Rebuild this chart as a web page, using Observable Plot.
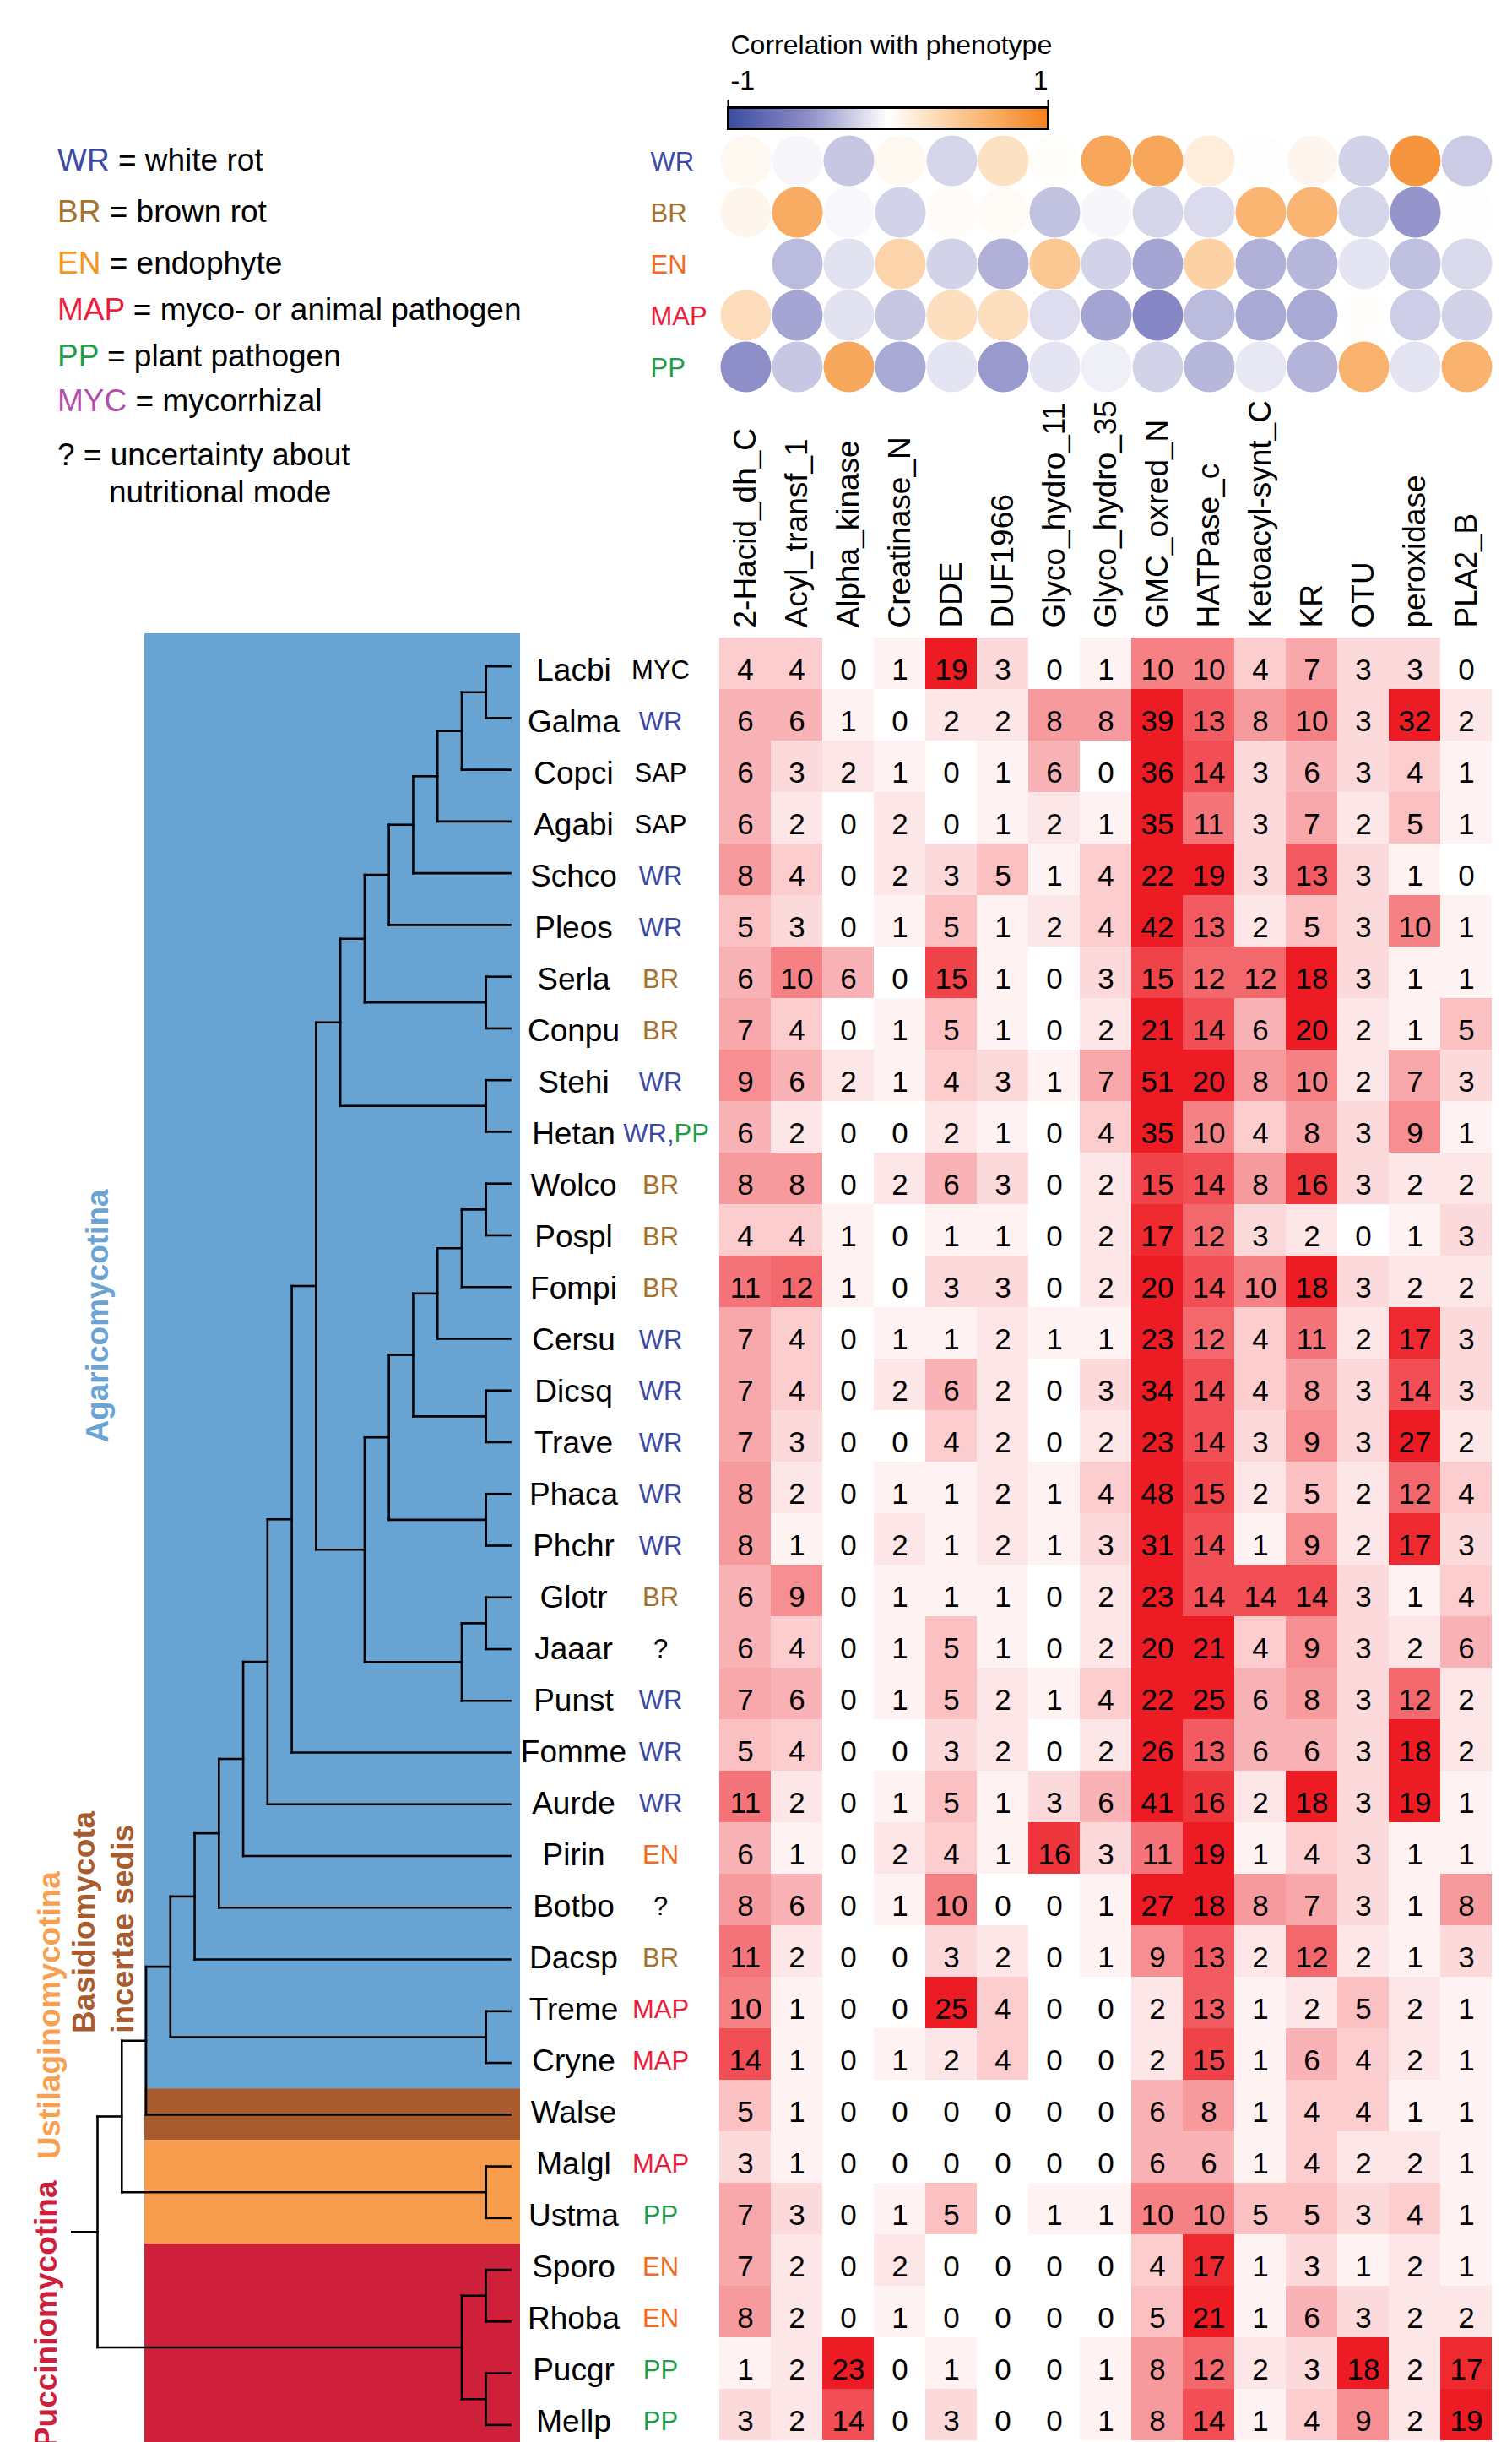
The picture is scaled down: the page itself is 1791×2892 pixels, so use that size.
<!DOCTYPE html>
<html><head><meta charset="utf-8">
<script src="https://cdn.jsdelivr.net/npm/d3@7"></script>
<script src="https://cdn.jsdelivr.net/npm/@observablehq/plot@0.6"></script>
<style>
html,body{margin:0;padding:0;overflow:hidden;background:#fff;}
#root{position:relative;width:1791px;height:2892px;overflow:hidden;background:#fff;font-family:"Liberation Sans",Arial,sans-serif;}
.leg{position:absolute;font-size:37px;line-height:42px;white-space:nowrap;color:#000;}
</style></head><body><div id="root"></div>
<script>
// ---------------- DATA ----------------
const domains = ["2-Hacid_dh_C","Acyl_transf_1","Alpha_kinase","Creatinase_N","DDE","DUF1966","Glyco_hydro_11","Glyco_hydro_35","GMC_oxred_N","HATPase_c","Ketoacyl-synt_C","KR","OTU","peroxidase","PLA2_B"];
const taxa = ["Lacbi","Galma","Copci","Agabi","Schco","Pleos","Serla","Conpu","Stehi","Hetan","Wolco","Pospl","Fompi","Cersu","Dicsq","Trave","Phaca","Phchr","Glotr","Jaaar","Punst","Fomme","Aurde","Pirin","Botbo","Dacsp","Treme","Cryne","Walse","Malgl","Ustma","Sporo","Rhoba","Pucgr","Mellp"];
const modes = ["MYC","WR","SAP","SAP","WR","WR","BR","BR","WR","WR,PP","BR","BR","BR","WR","WR","WR","WR","WR","BR","?","WR","WR","WR","EN","?","BR","MAP","MAP","","MAP","PP","EN","EN","PP","PP"];
const counts = [
 [4,4,0,1,19,3,0,1,10,10,4,7,3,3,0],
 [6,6,1,0,2,2,8,8,39,13,8,10,3,32,2],
 [6,3,2,1,0,1,6,0,36,14,3,6,3,4,1],
 [6,2,0,2,0,1,2,1,35,11,3,7,2,5,1],
 [8,4,0,2,3,5,1,4,22,19,3,13,3,1,0],
 [5,3,0,1,5,1,2,4,42,13,2,5,3,10,1],
 [6,10,6,0,15,1,0,3,15,12,12,18,3,1,1],
 [7,4,0,1,5,1,0,2,21,14,6,20,2,1,5],
 [9,6,2,1,4,3,1,7,51,20,8,10,2,7,3],
 [6,2,0,0,2,1,0,4,35,10,4,8,3,9,1],
 [8,8,0,2,6,3,0,2,15,14,8,16,3,2,2],
 [4,4,1,0,1,1,0,2,17,12,3,2,0,1,3],
 [11,12,1,0,3,3,0,2,20,14,10,18,3,2,2],
 [7,4,0,1,1,2,1,1,23,12,4,11,2,17,3],
 [7,4,0,2,6,2,0,3,34,14,4,8,3,14,3],
 [7,3,0,0,4,2,0,2,23,14,3,9,3,27,2],
 [8,2,0,1,1,2,1,4,48,15,2,5,2,12,4],
 [8,1,0,2,1,2,1,3,31,14,1,9,2,17,3],
 [6,9,0,1,1,1,0,2,23,14,14,14,3,1,4],
 [6,4,0,1,5,1,0,2,20,21,4,9,3,2,6],
 [7,6,0,1,5,2,1,4,22,25,6,8,3,12,2],
 [5,4,0,0,3,2,0,2,26,13,6,6,3,18,2],
 [11,2,0,1,5,1,3,6,41,16,2,18,3,19,1],
 [6,1,0,2,4,1,16,3,11,19,1,4,3,1,1],
 [8,6,0,1,10,0,0,1,27,18,8,7,3,1,8],
 [11,2,0,0,3,2,0,1,9,13,2,12,2,1,3],
 [10,1,0,0,25,4,0,0,2,13,1,2,5,2,1],
 [14,1,0,1,2,4,0,0,2,15,1,6,4,2,1],
 [5,1,0,0,0,0,0,0,6,8,1,4,4,1,1],
 [3,1,0,0,0,0,0,0,6,6,1,4,2,2,1],
 [7,3,0,1,5,0,1,1,10,10,5,5,3,4,1],
 [7,2,0,2,0,0,0,0,4,17,1,3,1,2,1],
 [8,2,0,1,0,0,0,0,5,21,1,6,3,2,2],
 [1,2,23,0,1,0,0,1,8,12,2,3,18,2,17],
 [3,2,14,0,3,0,0,1,8,14,1,4,9,2,19]
];
const phenotypes = ["WR","BR","EN","MAP","PP"];
const correlations = [
 [0.06,-0.04,-0.25,0.06,-0.18,0.25,0.02,0.72,0.72,0.15,-0.01,0.07,-0.2,0.85,-0.23],
 [0.08,0.68,-0.03,-0.2,0.03,0.04,-0.27,-0.04,-0.18,-0.16,0.6,0.6,-0.18,-0.47,-0.01],
 [null,-0.3,-0.13,0.35,-0.2,-0.35,0.45,-0.2,-0.4,0.38,-0.35,-0.32,-0.12,-0.28,-0.17],
 [0.28,-0.4,-0.13,-0.25,0.27,0.27,-0.15,-0.4,-0.55,-0.3,-0.38,-0.38,0.01,-0.22,-0.2],
 [-0.5,-0.25,0.7,-0.38,-0.12,-0.45,-0.12,-0.07,-0.2,-0.32,-0.1,-0.33,0.62,-0.12,0.62]
];
// species tree (topology, as nested pairs)
const cladeA = [[[[[[["Lacbi","Galma"],"Copci"],"Agabi"],"Schco"],"Pleos"],["Serla","Conpu"]],["Stehi","Hetan"]];
const cladeB = [[[[[["Wolco","Pospl"],"Fompi"],"Cersu"],["Dicsq","Trave"]],["Phaca","Phchr"]],[["Glotr","Jaaar"],"Punst"]];
const tree = [[[[[[[[[[cladeA,cladeB],"Fomme"],"Aurde"],"Pirin"],"Botbo"],"Dacsp"],["Treme","Cryne"]],"Walse"],["Malgl","Ustma"]],[["Sporo","Rhoba"],["Pucgr","Mellp"]]];
const clades = [
 {name:"Agaricomycotina", from:"Lacbi", to:"Cryne", color:"#67a3d3"},
 {name:"Basidiomycota incertae sedis", from:"Walse", to:"Walse", color:"#a85c2e"},
 {name:"Ustilaginomycotina", from:"Malgl", to:"Ustma", color:"#f79c4c"},
 {name:"Pucciniomycotina", from:"Sporo", to:"Mellp", color:"#ce1f3b"}
];
const modeColors = {WR:"#3b4aa5", BR:"#a5712c", EN:"#f26b21", MAP:"#ee1c3b", PP:"#1f9e4a", MYC:"#000", SAP:"#000", "?":"#000"};
const legendItems = [
 ["WR","#3b4aa5","white rot"],["BR","#a5712c","brown rot"],["EN","#f7941d","endophyte"],
 ["MAP","#ee1c3b","myco- or animal pathogen"],["PP","#1f9e4a","plant pathogen"],["MYC","#b050a8","mycorrhizal"]
];

// ---------------- LAYOUT ----------------
const root = document.getElementById("root");
const FONT = "'Liberation Sans', Arial, sans-serif";
function place(el, left, top) { el.style.position = "absolute"; el.style.left = left + "px"; el.style.top = top + "px"; root.appendChild(el); return el; }
const baseStyle = {fontFamily: FONT, background: "transparent", color: "#000"};

// text legend (top-left)
const legTops = [190, 251, 312, 367, 422, 475];
legendItems.forEach(([code, col, desc], i) => {
  const d = document.createElement("div"); d.className = "leg";
  d.innerHTML = `<span style="color:${col}">${code}</span> = ${desc}`;
  place(d, 68, legTops[i] - 21);
});
{ const d = document.createElement("div"); d.className = "leg"; d.textContent = "? = uncertainty about"; place(d, 68, 539 - 21);
  const e = document.createElement("div"); e.className = "leg"; e.textContent = "nutritional mode"; place(e, 129, 583 - 21); }

// correlation colour scale
const corrColor = {type: "linear", domain: [-1, -0.5, 0, 0.5, 1], range: ["#3a4c9f", "#8e8ec8", "#ffffff", "#fbc287", "#f4821f"]};

// colour bar
const ramp = d3.range(-1, 1, 0.02);
place(Plot.plot({
  width: 440, height: 170, marginLeft: 22, marginRight: 39, marginTop: 127, marginBottom: 18,
  style: baseStyle,
  x: {domain: [-1, 1], axis: null}, y: {domain: [0, 1], axis: null}, color: corrColor,
  marks: [
    Plot.rect(ramp, {x1: d => d, x2: d => Math.min(1, d + 0.03), y1: 0, y2: 1, fill: d => d + 0.01}),
    Plot.frame({stroke: "black", strokeWidth: 3}),
    Plot.ruleX([-1, 1], {y1: 1, y2: 1.36, stroke: "black", strokeWidth: 2}),
    Plot.text(["Correlation with phenotype"], {x: -1, y: 3.96, dx: 3, textAnchor: "start", fontSize: 32, fill: "black"}),
    Plot.text(["-1"], {x: -1, y: 2.28, dx: 3, textAnchor: "start", fontSize: 32, fill: "black"}),
    Plot.text(["1"], {x: 1, y: 2.28, textAnchor: "end", fontSize: 32, fill: "black"})
  ]
}), 840, 0);

// correlation dots
const corrCells = [];
phenotypes.forEach((p, i) => domains.forEach((dname, j) => { if (correlations[i][j] != null) corrCells.push({phen: p, domain: dname, r: correlations[i][j]}); }));
place(Plot.plot({
  width: 1191, height: 320, marginLeft: 251, marginRight: 23, marginTop: 9.5, marginBottom: 5.5,
  style: baseStyle,
  x: {type: "point", domain: domains, axis: null, padding: 0.5},
  y: {type: "point", domain: phenotypes, axis: null, padding: 0.5},
  color: corrColor,
  marks: [
    Plot.dot(corrCells, {x: "domain", y: "phen", r: 30, fill: "r"}),
    ...phenotypes.map(p => Plot.text([p], {y: () => p, frameAnchor: "left", dx: -81, dy: 2, textAnchor: "start", fontSize: 31, fill: modeColors[p]}))
  ]
}), 600, 150);

// heatmap with labels
const cells = [];
taxa.forEach((t, i) => domains.forEach((dname, j) => cells.push({taxon: t, domain: dname, n: counts[i][j]})));
const tagRows = taxa.map((t, i) => ({taxon: t, mode: modes[i]}));
const singleTags = tagRows.filter(d => d.mode && !d.mode.includes(","));
const splitTags = tagRows.filter(d => d.mode.includes(","));
const tagMarks = [];
for (const code of Object.keys(modeColors)) {
  const rows = singleTags.filter(d => d.mode === code);
  if (rows.length) tagMarks.push(Plot.text(rows, {y: "taxon", text: "mode", frameAnchor: "left", dx: -69, dy: 8, textAnchor: "middle", fontSize: 31, fill: modeColors[code]}));
}
for (const d of splitTags) {
  const [a, b] = d.mode.split(",");
  tagMarks.push(Plot.text([d], {y: "taxon", text: () => a + ",", frameAnchor: "left", dx: -53, dy: 8, textAnchor: "end", fontSize: 31, fill: modeColors[a]}));
  tagMarks.push(Plot.text([d], {y: "taxon", text: () => b, frameAnchor: "left", dx: -53, dy: 8, textAnchor: "start", fontSize: 31, fill: modeColors[b]}));
}
place(Plot.plot({
  width: 1191, height: 2494, marginLeft: 251, marginRight: 23, marginTop: 350, marginBottom: 0,
  style: baseStyle,
  x: {domain: domains, axis: null, padding: 0}, y: {domain: taxa, axis: null, padding: 0},
  color: {type: "linear", domain: [0, 18], range: ["#ffffff", "#ed1c24"], clamp: true},
  marks: [
    Plot.cell(cells, {x: "domain", y: "taxon", fill: "n"}),
    Plot.text(cells, {x: "domain", y: "taxon", text: d => String(d.n), dy: 8, fontSize: 35, fill: "black"}),
    Plot.text(domains, {x: d => d, frameAnchor: "top", rotate: -90, textAnchor: "start", dx: -14, dy: -7, fontSize: 37, fill: "black"}),
    Plot.text(taxa, {y: d => d, frameAnchor: "left", dx: -172, dy: 8, textAnchor: "middle", fontSize: 37, fill: "black"}),
    ...tagMarks
  ]
}), 600, 400);

// dendrogram
const h = d3.hierarchy(tree, d => Array.isArray(d) ? d : null);
h.eachAfter(n => { n.yy = n.children ? d3.mean(n.children, c => c.yy) : taxa.indexOf(n.data); });
const segs = [];
h.each(n => {
  if (!n.children) return;
  const ys = n.children.map(c => c.yy);
  segs.push({x1: n.height, x2: n.height, y1: d3.min(ys), y2: d3.max(ys)});
  n.children.forEach(c => segs.push({x1: n.height, x2: c.height, y1: c.yy, y2: c.yy}));
});
segs.push({x1: h.height, x2: h.height + 1.05, y1: h.yy, y2: h.yy});
const ROW = 2144 / 35;
const cladeLabels = [
  {text: "Agaricomycotina", y: 12.56, dx: -55, color: "#6aa3d4"},
  {text: "Ustilaginomycotina", y: 26.08, dx: -112, color: "#f7a052"},
  {text: "Basidiomycota", y: 24.28, dx: -71, color: "#a85c2e"},
  {text: "incertae sedis", y: 24.41, dx: -25, color: "#a85c2e"},
  {text: "Pucciniomycotina", y: 31.86, dx: -116, color: "#cf1f3c"}
];
place(Plot.plot({
  width: 640, height: 2142, marginLeft: 171, marginRight: 24, marginTop: 0, marginBottom: 0,
  style: baseStyle,
  x: {domain: [0, 17], range: [604, 115], axis: null},
  y: {domain: [-0.5, 34.5], range: [8, 8 + 35 * ROW], axis: null},
  color: {type: "identity"},
  marks: [
    Plot.rect(clades, {y1: (d, i) => taxa.indexOf(d.from) - 0.5 - (i === 0 ? 8 / ROW : 0), y2: d => taxa.indexOf(d.to) + 0.5, fill: d => d.color}),
    Plot.link(segs, {x1: "x1", y1: "y1", x2: "x2", y2: "y2", stroke: "black", strokeWidth: 2.6, strokeLinecap: "square"}),
    ...cladeLabels.map(l => Plot.text([l], {y: "y", text: "text", frameAnchor: "left", dx: l.dx, rotate: -90, textAnchor: "middle", fontSize: 37, fontWeight: "bold", fill: l.color}))
  ]
}), 0, 750);
</script></body></html>
